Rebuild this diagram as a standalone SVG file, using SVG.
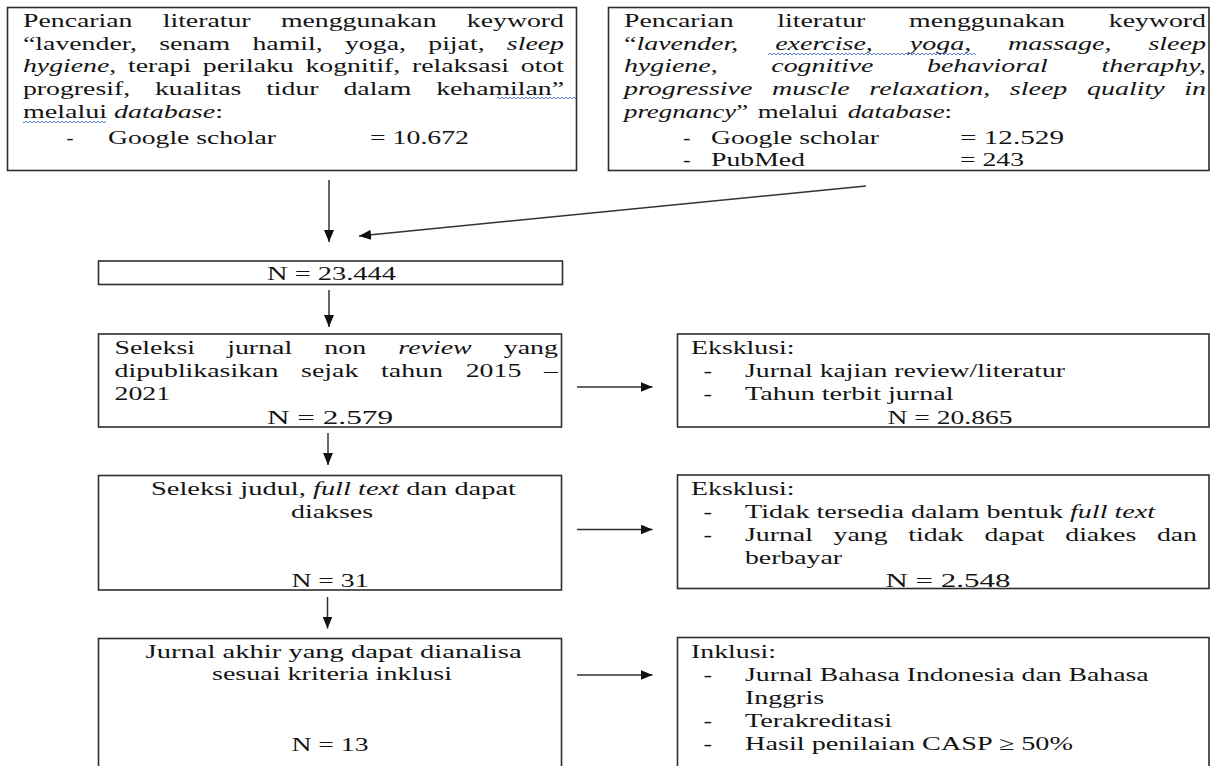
<svg xmlns="http://www.w3.org/2000/svg" width="1211" height="766" viewBox="0 0 1211 766">
<style>
.box{fill:#fff;stroke:#2e2e2e;stroke-width:1.6}
text{font-family:"Liberation Serif","Times New Roman",serif;font-size:19px;fill:#141414}
.i{font-style:italic}
.c{text-anchor:middle}
.conn{stroke:#333;stroke-width:1.5;fill:none;marker-end:url(#ah)}
.wave{fill:url(#wv)}
</style>
<defs>
<marker id="ah" markerUnits="userSpaceOnUse" markerWidth="12" markerHeight="10" refX="12" refY="5" orient="auto">
<path d="M0,0 L12,5 L0,10 z" fill="#111"/>
</marker>
<pattern id="wv" width="4" height="4" patternUnits="userSpaceOnUse">
<path d="M0,3 L2,1 L4,3" stroke="#3f6fd1" stroke-width="0.9" fill="none"/>
</pattern>
</defs>

<g id="connectors">
<line class="conn" x1="329" y1="180" x2="329" y2="242"/>
<line class="conn" x1="866" y1="186" x2="359" y2="236"/>
<line class="conn" x1="329" y1="290" x2="329" y2="327"/>
<line class="conn" x1="328" y1="433" x2="328" y2="465"/>
<line class="conn" x1="327.5" y1="597" x2="327.5" y2="628.5"/>
<line class="conn" x1="577" y1="387" x2="652.5" y2="387"/>
<line class="conn" x1="577" y1="529.5" x2="652.5" y2="529.5"/>
<line class="conn" x1="577" y1="675" x2="652.5" y2="675"/>
</g>

<g id="search-id">
<rect class="box" x="7.5" y="7.5" width="569" height="163"/>
<text x="23" y="27" textLength="541" lengthAdjust="spacingAndGlyphs" style="word-spacing:16px">Pencarian literatur menggunakan keyword</text>
<text x="23" y="49.5" textLength="541" lengthAdjust="spacingAndGlyphs" style="word-spacing:10.5px">“lavender, senam hamil, yoga, pijat, <tspan class="i">sleep</tspan></text>
<text x="23" y="72" textLength="541" lengthAdjust="spacingAndGlyphs" style="word-spacing:3.3px"><tspan class="i">hygiene</tspan>, terapi perilaku kognitif, relaksasi otot</text>
<text x="23" y="95" textLength="541" lengthAdjust="spacingAndGlyphs" style="word-spacing:12.3px">progresif, kualitas tidur dalam kehamilan”</text>
<rect class="wave" x="497" y="96" width="79" height="4"/>
<text x="23" y="118" textLength="200" lengthAdjust="spacingAndGlyphs">melalui <tspan class="i">database</tspan>:</text>
<rect class="wave" x="23" y="120" width="83" height="4"/>
<text x="66.5" y="144" textLength="7" lengthAdjust="spacingAndGlyphs">-</text>
<text x="108" y="144" textLength="168" lengthAdjust="spacingAndGlyphs">Google scholar</text>
<text x="370" y="144" textLength="99" lengthAdjust="spacingAndGlyphs">= 10.672</text>
</g>

<g id="search-en">
<rect class="box" x="608.5" y="7.5" width="600.5" height="163"/>
<text x="624" y="27" textLength="582" lengthAdjust="spacingAndGlyphs" style="word-spacing:25.2px">Pencarian literatur menggunakan keyword</text>
<text x="624" y="49.5" textLength="582" lengthAdjust="spacingAndGlyphs" style="word-spacing:20.3px">“<tspan class="i">lavender, exercise, yoga, massage, sleep</tspan></text>
<rect class="wave" x="768" y="51" width="208" height="4"/>
<text x="624" y="72" textLength="582" lengthAdjust="spacingAndGlyphs" style="word-spacing:31.8px" class="i">hygiene, cognitive behavioral theraphy,</text>
<text x="624" y="95" textLength="582" lengthAdjust="spacingAndGlyphs" style="word-spacing:8.6px" class="i">progressive muscle relaxation, sleep quality in</text>
<text x="624" y="118" textLength="328" lengthAdjust="spacingAndGlyphs" style="word-spacing:2px"><tspan class="i">pregnancy</tspan>” melalui <tspan class="i">database</tspan>:</text>
<text x="683" y="144" textLength="7.5" lengthAdjust="spacingAndGlyphs">-</text>
<text x="711" y="144" textLength="168" lengthAdjust="spacingAndGlyphs">Google scholar</text>
<text x="960" y="144" textLength="104" lengthAdjust="spacingAndGlyphs">= 12.529</text>
<text x="683" y="166" textLength="7.5" lengthAdjust="spacingAndGlyphs">-</text>
<text x="711" y="166" textLength="94" lengthAdjust="spacingAndGlyphs">PubMed</text>
<text x="960" y="166" textLength="64" lengthAdjust="spacingAndGlyphs">= 243</text>
</g>

<g id="total">
<rect class="box" x="98.5" y="261" width="464" height="23.5"/>
<text class="c" x="331.5" y="280" textLength="129" lengthAdjust="spacingAndGlyphs">N = 23.444</text>
</g>

<g id="screen-year">
<rect class="box" x="98.5" y="334" width="463" height="93"/>
<text x="114.5" y="354" textLength="443.5" lengthAdjust="spacingAndGlyphs" style="word-spacing:17.2px">Seleksi jurnal non <tspan class="i">review</tspan> yang</text>
<text x="114.5" y="377" textLength="443.5" lengthAdjust="spacingAndGlyphs" style="word-spacing:10.8px">dipublikasikan sejak tahun 2015 –</text>
<text x="114.5" y="400" textLength="55.6" lengthAdjust="spacingAndGlyphs">2021</text>
<text class="c" x="330" y="424" textLength="126" lengthAdjust="spacingAndGlyphs">N = 2.579</text>
</g>

<g id="excl-1">
<rect class="box" x="677.5" y="334" width="531.5" height="93"/>
<text x="691" y="354" textLength="103.5" lengthAdjust="spacingAndGlyphs">Eksklusi:</text>
<text x="703.5" y="377" textLength="8.5" lengthAdjust="spacingAndGlyphs">-</text>
<text x="745" y="377" textLength="320" lengthAdjust="spacingAndGlyphs">Jurnal kajian review/literatur</text>
<text x="703.5" y="400" textLength="8.5" lengthAdjust="spacingAndGlyphs">-</text>
<text x="745" y="400" textLength="208.5" lengthAdjust="spacingAndGlyphs">Tahun terbit jurnal</text>
<text class="c" x="950" y="424" textLength="125" lengthAdjust="spacingAndGlyphs">N = 20.865</text>
</g>

<g id="screen-title">
<rect class="box" x="98.5" y="475.5" width="463" height="114.5"/>
<text class="c" x="333.5" y="495" textLength="365" lengthAdjust="spacingAndGlyphs">Seleksi judul, <tspan class="i">full text</tspan> dan dapat</text>
<text class="c" x="332" y="518" textLength="82" lengthAdjust="spacingAndGlyphs">diakses</text>
<text class="c" x="330" y="587" textLength="77" lengthAdjust="spacingAndGlyphs">N = 31</text>
</g>

<g id="excl-2">
<rect class="box" x="677.5" y="475" width="531.5" height="113.5"/>
<text x="691" y="495" textLength="103.5" lengthAdjust="spacingAndGlyphs">Eksklusi:</text>
<text x="703.5" y="518" textLength="8.5" lengthAdjust="spacingAndGlyphs">-</text>
<text x="745" y="518" textLength="410" lengthAdjust="spacingAndGlyphs">Tidak tersedia dalam bentuk <tspan class="i">full text</tspan></text>
<text x="703.5" y="541" textLength="8.5" lengthAdjust="spacingAndGlyphs">-</text>
<text x="745" y="541" textLength="452" lengthAdjust="spacingAndGlyphs" style="word-spacing:9.4px">Jurnal yang tidak dapat diakes dan</text>
<text x="745" y="564" textLength="97" lengthAdjust="spacingAndGlyphs">berbayar</text>
<text class="c" x="948" y="587" textLength="125" lengthAdjust="spacingAndGlyphs">N = 2.548</text>
</g>

<g id="final">
<rect class="box" x="98.5" y="638.5" width="463" height="140"/>
<text class="c" x="333.6" y="658" textLength="376" lengthAdjust="spacingAndGlyphs">Jurnal akhir yang dapat dianalisa</text>
<text class="c" x="332" y="680" textLength="240" lengthAdjust="spacingAndGlyphs">sesuai kriteria inklusi</text>
<text class="c" x="330" y="750.5" textLength="77" lengthAdjust="spacingAndGlyphs">N = 13</text>
</g>

<g id="incl">
<rect class="box" x="677.5" y="637.5" width="531.5" height="140"/>
<text x="691" y="658" textLength="85" lengthAdjust="spacingAndGlyphs">Inklusi:</text>
<text x="703.5" y="681" textLength="8.5" lengthAdjust="spacingAndGlyphs">-</text>
<text x="745" y="681" textLength="403.6" lengthAdjust="spacingAndGlyphs">Jurnal Bahasa Indonesia dan Bahasa</text>
<text x="745" y="704" textLength="79" lengthAdjust="spacingAndGlyphs">Inggris</text>
<text x="703.5" y="727" textLength="8.5" lengthAdjust="spacingAndGlyphs">-</text>
<text x="745" y="727" textLength="147" lengthAdjust="spacingAndGlyphs">Terakreditasi</text>
<text x="703.5" y="750" textLength="8.5" lengthAdjust="spacingAndGlyphs">-</text>
<text x="745" y="750" textLength="328" lengthAdjust="spacingAndGlyphs">Hasil penilaian CASP ≥ 50%</text>
</g>
</svg>
